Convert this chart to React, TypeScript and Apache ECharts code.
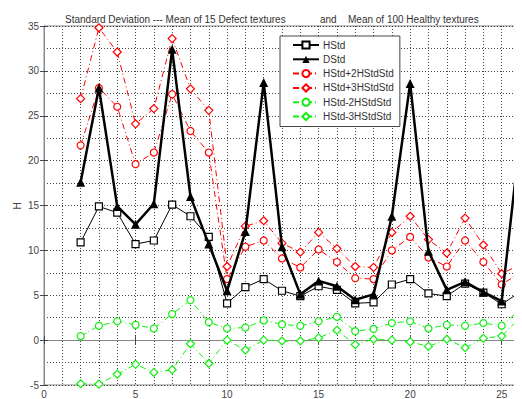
import React, { useEffect, useRef } from "react";
import * as echarts from "echarts";

const xs = [2, 3, 4, 5, 6, 7, 8, 9, 10, 11, 12, 13, 14, 15, 16, 17, 18, 19, 20, 21, 22, 23, 24, 25, 26];
const hStd = [10.9, 14.9, 14.2, 10.7, 11.1, 15.1, 13.8, 11.5, 4.1, 5.9, 6.8, 5.5, 4.9, 6.0, 5.6, 4.1, 4.2, 6.2, 6.8, 5.2, 4.9, 6.3, 5.3, 4.0, 5.35];
const dStd = [17.6, 28.1, 14.9, 12.9, 15.2, 32.4, 16.0, 10.7, 5.5, 12.1, 28.7, 10.4, 5.1, 6.6, 6.0, 4.5, 5.1, 13.8, 28.6, 9.9, 5.6, 6.5, 5.35, 4.35, 22.5];
const hPlus2 = [21.7, 28.1, 26.0, 19.6, 20.9, 27.4, 23.3, 20.9, 6.8, 10.4, 11.1, 9.1, 8.1, 10.1, 8.7, 6.9, 6.8, 10.0, 11.5, 9.2, 8.2, 11.1, 8.7, 6.2, 7.5];
const hPlus3 = [26.9, 34.8, 32.1, 24.1, 25.8, 33.6, 28.0, 25.6, 8.2, 12.7, 13.3, 10.8, 9.8, 12.0, 10.2, 8.2, 8.1, 12.0, 13.8, 11.2, 9.7, 13.6, 10.6, 7.4, 8.4];
const hMinus2 = [0.45, 1.6, 2.1, 1.7, 1.3, 2.9, 4.45, 2.0, 1.3, 1.4, 2.2, 1.75, 1.6, 2.1, 2.6, 1.0, 1.25, 1.9, 2.1, 1.3, 1.7, 1.6, 1.9, 1.6, 3.4];
const hMinus3 = [-4.86, -4.9, -3.8, -2.7, -3.6, -3.3, -0.4, -2.6, 0.0, -1.1, 0.0, -0.1, -0.1, 0.25, 1.1, -0.5, 0.1, 0.0, -0.2, -0.7, 0.1, -0.85, 0.2, 0.45, 2.5];

const titleLeft = "Standard Deviation --- Mean of 15 Defect textures";
const titleMid = "and";
const titleRight = "Mean of 100 Healthy textures";
const yName = "H";

const FONT = "'Liberation Sans', Arial, sans-serif";

const pair = (ys: number[]) => xs.map((x, i) => [x, ys[i]]);

export default function App() {
  const ref = useRef<HTMLDivElement>(null);
  useEffect(() => {
    if (!ref.current) return;
    const chart = echarts.init(ref.current, undefined, { renderer: "svg" });
    const dashDot = [6, 3, 1, 3];
    const mk = (
      name: string,
      ys: number[],
      color: string,
      symbol: string,
      symbolSize: number,
      width: number,
      type: any,
      filled: boolean
    ) => ({
      name,
      type: "line",
      data: pair(ys),
      symbol,
      symbolSize,
      showAllSymbol: true,
      lineStyle: { color, width, type },
      itemStyle: {
        color: filled ? color : "#ffffff",
        borderColor: color,
        borderWidth: filled ? 0 : 1.2,
      },
      emphasis: { disabled: true },
      z: filled ? 3 : 2,
    });
    const ts = { fontSize: 10, fontWeight: "normal", color: "#333", fontFamily: FONT };
    const option: any = {
      animation: false,
      backgroundColor: "#ffffff",
      textStyle: { fontFamily: FONT },
      title: [
        { text: titleLeft, left: 60, top: 9, textStyle: ts },
        { text: titleMid, left: 315, top: 9, textStyle: ts },
        { text: titleRight, left: 343, top: 9, textStyle: ts },
      ],
      graphic: [
        {
          type: "text",
          x: 17,
          y: 206,
          rotation: Math.PI / 2,
          style: { text: yName, fontSize: 10, fill: "#444", fontFamily: FONT, align: "center", verticalAlign: "middle" },
        },
      ],
      grid: { left: 44, right: 2, top: 26, bottom: 14, show: true, borderColor: "#888", borderWidth: 1, backgroundColor: "#fff" },
      legend: {
        orient: "vertical",
        left: 280,
        top: 36,
        width: 118,
        padding: [4, 6, 5, 12],
        itemGap: 4.3,
        itemWidth: 26,
        itemHeight: 9,
        borderColor: "#444",
        borderWidth: 1,
        backgroundColor: "#fff",
        textStyle: { fontSize: 10, color: "#333", fontFamily: FONT, padding: [0, 0, 0, -1] },
        data: ["HStd", "DStd", "HStd+2HStdStd", "HStd+3HStdStd", "HStd-2HStdStd", "HStd-3HStdStd"],
      },
      xAxis: [
        {
          type: "value",
          min: 0,
          max: 26,
          interval: 5,
          axisLine: { show: true, lineStyle: { color: "#888", width: 1 } },
          axisTick: { show: true, inside: true, length: 4, lineStyle: { color: "#444" } },
          minorTick: { show: true, splitNumber: 5, length: 0 },
          axisLabel: { fontSize: 10, color: "#444", margin: 4, showMaxLabel: false, fontFamily: FONT },
          splitLine: { show: true, lineStyle: { color: "#444", type: [1, 2], width: 1 } },
          minorSplitLine: { show: true, lineStyle: { color: "#444", type: [1, 2], width: 1 } },
        },
        {
          type: "value",
          position: "top",
          min: 0,
          max: 26,
          interval: 5,
          axisLine: { show: true, lineStyle: { color: "#888" } },
          axisTick: { show: true, inside: true, length: 4, lineStyle: { color: "#444" } },
          axisLabel: { show: false },
          splitLine: { show: false },
        },
      ],
      yAxis: [
        {
          type: "value",
          min: -5,
          max: 35,
          interval: 5,
          axisLine: { show: true, lineStyle: { color: "#888", width: 1 } },
          axisTick: { show: true, inside: true, length: 4, lineStyle: { color: "#444" } },
          minorTick: { show: true, splitNumber: 2, length: 0 },
          axisLabel: { fontSize: 10, color: "#444", margin: 5, fontFamily: FONT },
          splitLine: { show: true, lineStyle: { color: "#444", type: [1, 2], width: 1 } },
          minorSplitLine: { show: true, lineStyle: { color: "#444", type: [1, 2], width: 1 } },
        },
        {
          type: "value",
          position: "right",
          min: -5,
          max: 35,
          interval: 5,
          axisLine: { show: true, lineStyle: { color: "#888" } },
          axisTick: { show: true, inside: true, length: 4, lineStyle: { color: "#444" } },
          axisLabel: { show: false },
          splitLine: { show: false },
        },
      ],
      series: [
        mk("HStd", hStd, "#000000", "rect", 7, 1, "solid", false),
        mk("DStd", dStd, "#000000", "triangle", 9, 2.5, "solid", true),
        mk("HStd+2HStdStd", hPlus2, "#ff0000", "circle", 7, 1, dashDot, false),
        mk("HStd+3HStdStd", hPlus3, "#ff0000", "diamond", 8, 1, dashDot, false),
        mk("HStd-2HStdStd", hMinus2, "#11ee11", "circle", 7, 1, dashDot, false),
        mk("HStd-3HStdStd", hMinus3, "#11ee11", "diamond", 8, 1, dashDot, false),
      ],
    };
    chart.setOption(option);
    return () => chart.dispose();
  }, []);
  return <div ref={ref} style={{ width: 522, height: 399, marginLeft: -8, marginTop: -8 }} />;
}
